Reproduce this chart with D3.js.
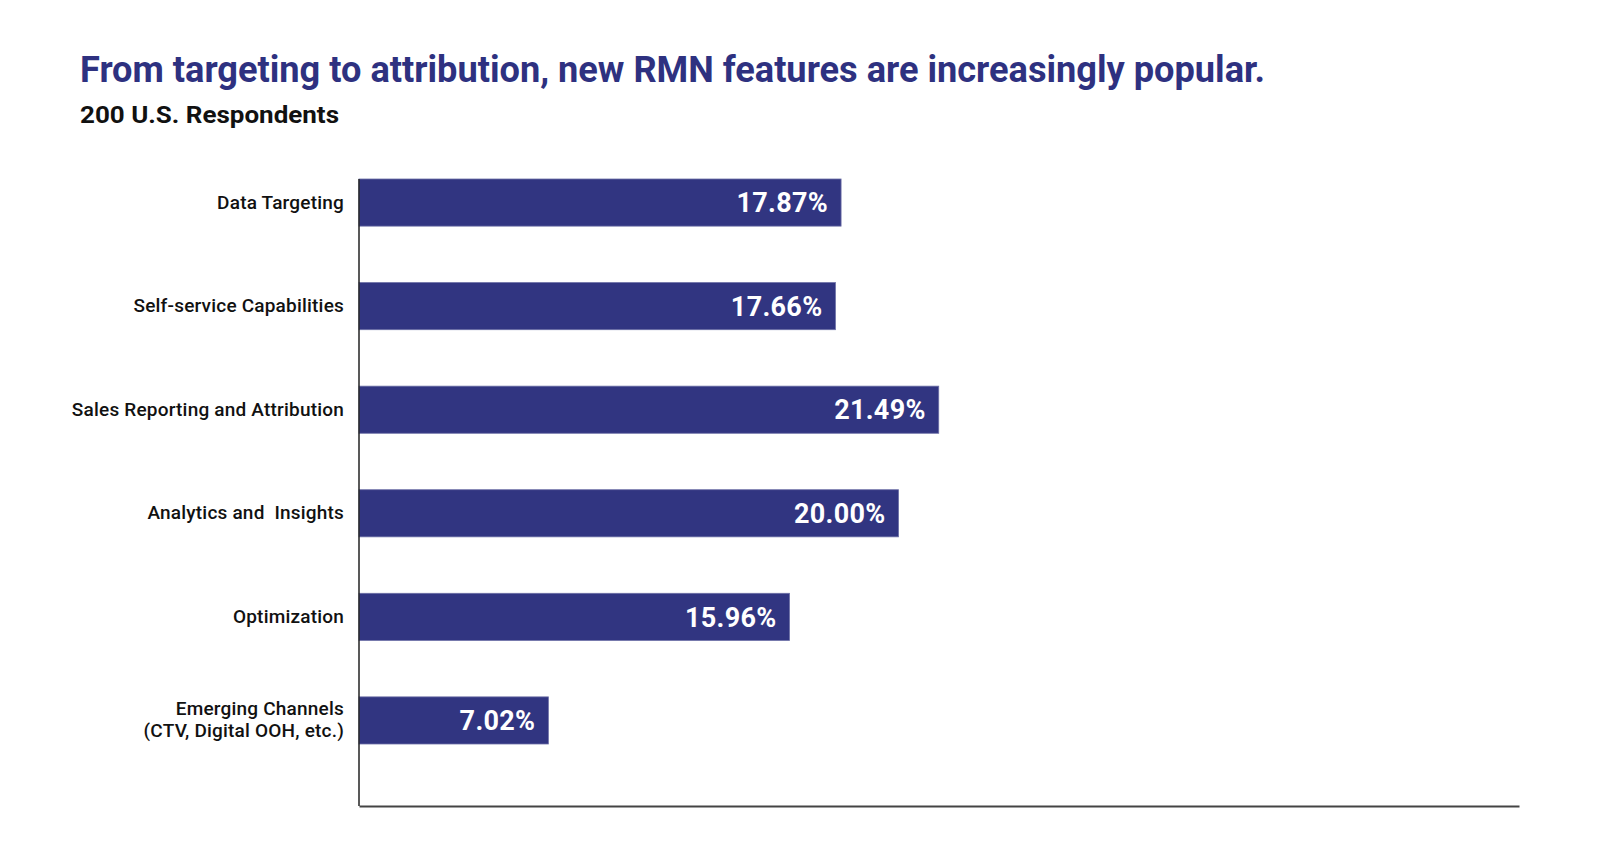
<!DOCTYPE html>
<html>
<head>
<meta charset="utf-8">
<script src="https://cdn.jsdelivr.net/npm/d3@7"></script>
<style>
  body { margin: 0; background: #fff; }
  text { font-family: Roboto, "Noto Sans", sans-serif; }
</style>
</head>
<body>
<svg id="chart"></svg>
<script>
// Chart data
const categories = [
  "Data Targeting",
  "Self-service Capabilities",
  "Sales Reporting and Attribution",
  "Analytics and  Insights",
  "Optimization",
  "Emerging Channels\n(CTV, Digital OOH, etc.)"
];
const shares = [17.87, 17.66, 21.49, 20.00, 15.96, 7.02];
const valueLabels = ["17.87%", "17.66%", "21.49%", "20.00%", "15.96%", "7.02%"];

const data = categories.map((c, i) => ({ name: c, value: shares[i], label: valueLabels[i] }));

const navy = "#313581";
const svg = d3.select("#chart").attr("width", 1600).attr("height", 850);

// Title and subtitle
svg.append("text")
  .attr("x", 80).attr("y", 82)
  .attr("textLength", 1185).attr("lengthAdjust", "spacingAndGlyphs")
  .style("font-size", "36px").style("font-weight", "700")
  .attr("fill", "#2e3180")
  .text("From targeting to attribution, new RMN features are increasingly popular.");

svg.append("text")
  .attr("x", 80).attr("y", 123)
  .attr("textLength", 259).attr("lengthAdjust", "spacingAndGlyphs")
  .style("font-size", "24px").style("font-weight", "700")
  .attr("fill", "#111")
  .text("200 U.S. Respondents");

// Scales
const plotLeft = 359, plotRight = 1519, plotTop = 179, plotBottom = 806;
const x = d3.scaleLinear().domain([0, 43]).range([plotLeft, plotRight]);
const y = d3.scaleBand()
  .domain(categories)
  .range([plotTop, 744])
  .paddingInner(0.545)
  .paddingOuter(0);

// Bars
svg.selectAll(".bar")
  .data(data)
  .enter().append("rect")
  .attr("class", "bar")
  .attr("x", x(0))
  .attr("y", d => y(d.name))
  .attr("width", d => x(d.value) - x(0))
  .attr("height", y.bandwidth())
  .attr("fill", navy)
  .attr("stroke", "#6c6fa6")
  .attr("stroke-width", 0.8);

// Value labels inside bars
svg.selectAll(".val")
  .data(data)
  .enter().append("text")
  .attr("class", "val")
  .attr("x", d => x(d.value) - 13)
  .attr("y", d => y(d.name) + y.bandwidth() / 2)
  .attr("dy", "0.36em")
  .attr("text-anchor", "end")
  .attr("fill", "#fff")
  .style("font-size", "27px")
  .style("font-weight", "700")
  .style("letter-spacing", "0.3px")
  .text(d => d.label);

// Category axis
const yAxis = svg.append("g")
  .attr("transform", "translate(" + plotLeft + ",0)")
  .call(d3.axisLeft(y).tickSize(0).tickPadding(15));
yAxis.select(".domain").remove();
yAxis.selectAll("text")
  .style("font-size", "19px")
  .style("font-weight", "500")
  .style("letter-spacing", "0.2px")
  .style("white-space", "pre")
  .attr("fill", "#111")
  .each(function(d) {
    const lines = d.split("\n");
    if (lines.length > 1) {
      const t = d3.select(this).text(null);
      lines.forEach((ln, i) => {
        t.append("tspan")
          .attr("x", -15)
          .attr("dy", i === 0 ? "-0.28em" : "1.15em")
          .text(ln);
      });
    }
  });

// Vertical axis line
svg.append("line")
  .attr("x1", plotLeft).attr("x2", plotLeft)
  .attr("y1", plotTop).attr("y2", plotBottom)
  .attr("stroke", "#222").attr("stroke-width", 1.5);

// Bottom axis line
const xAxis = svg.append("g")
  .attr("transform", "translate(0," + plotBottom + ")")
  .call(d3.axisBottom(x).tickValues([]).tickSizeOuter(0));
xAxis.select(".domain").attr("stroke", "#444").attr("stroke-width", 2);
</script>
</body>
</html>
